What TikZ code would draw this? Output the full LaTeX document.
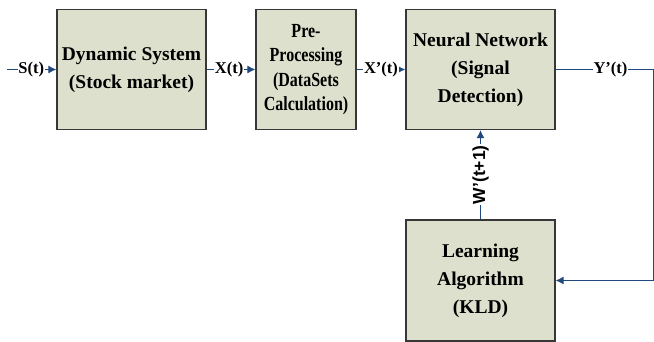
\documentclass[tikz,border=0pt]{standalone}
\usepackage{fontspec}
\setmainfont{Liberation Serif}
\setsansfont{Liberation Sans}
\newfontfamily\condserif[FakeStretch=0.8]{Liberation Serif}
\usetikzlibrary{arrows.meta}
\definecolor{boxfill}{RGB}{221,224,204}
\definecolor{boxedge}{RGB}{55,55,55}
\definecolor{wire}{RGB}{31,73,125}
\tikzset{
  block/.style={draw=boxedge, line width=1.3pt, fill=boxfill, inner sep=0pt,
    minimum width=149pt, minimum height=120pt, align=center,
    font=\fontsize{19.5}{28}\selectfont\bfseries},
  narrowblock/.style={block, minimum width=100pt,
    font=\condserif\fontsize{20}{24.6}\selectfont\bfseries},
  wirelabel/.style={fill=white, inner sep=0.6pt, text=black,
    font=\fontsize{16.5}{18}\selectfont\bfseries},
  vlabel/.style={fill=white, inner sep=1pt, rotate=90, text=black,
    font=\sffamily\fontsize{17.5}{18}\selectfont\bfseries},
  flow/.style={draw=wire, line width=1pt, -{Latex[length=8pt,width=8pt]}},
  plain/.style={draw=wire, line width=1pt}
}
\begin{document}
\begin{tikzpicture}[x=1pt, y=-1pt]
  \useasboundingbox (0,0) rectangle (654,342);

  % processing chain
  \node[block] (dyn) at (131.5,69.5) {Dynamic System\\(Stock market)};
  \node[narrowblock] (pre) at (306,69.5) {Pre-\\Processing\\(DataSets\\Calculation)};
  \node[block] (nn) at (480.5,69.5) {Neural Network\\(Signal\\Detection)};
  \node[block, minimum height=121pt] (learn) at (480.5,280.5) {Learning\\Algorithm\\(KLD)};

  % input and output ends
  \coordinate (in) at (7,69.5);
  \coordinate (outcorner) at (653.5,69.5);
  \coordinate (backcorner) at (653.5,280.5);

  % forward signals
  \draw[flow] (in) -- node[wirelabel, pos=0.49] {S(t)} (dyn.west);
  \draw[flow] (dyn.east) -- node[wirelabel, pos=0.46] {X(t)} (pre.west);
  \draw[flow] (pre.east) -- node[wirelabel, pos=0.5] {X’(t)} (nn.west);

  % output fed back to the learning block
  \draw[plain] (nn.east) -- node[wirelabel, pos=0.56] {Y’(t)} (outcorner);
  \draw[flow] (outcorner) -- (backcorner) -- (learn.east);

  % weight update
  \draw[flow] (learn.north) -- node[vlabel] {W’(t+1)} (nn.south);
\end{tikzpicture}
\end{document}
